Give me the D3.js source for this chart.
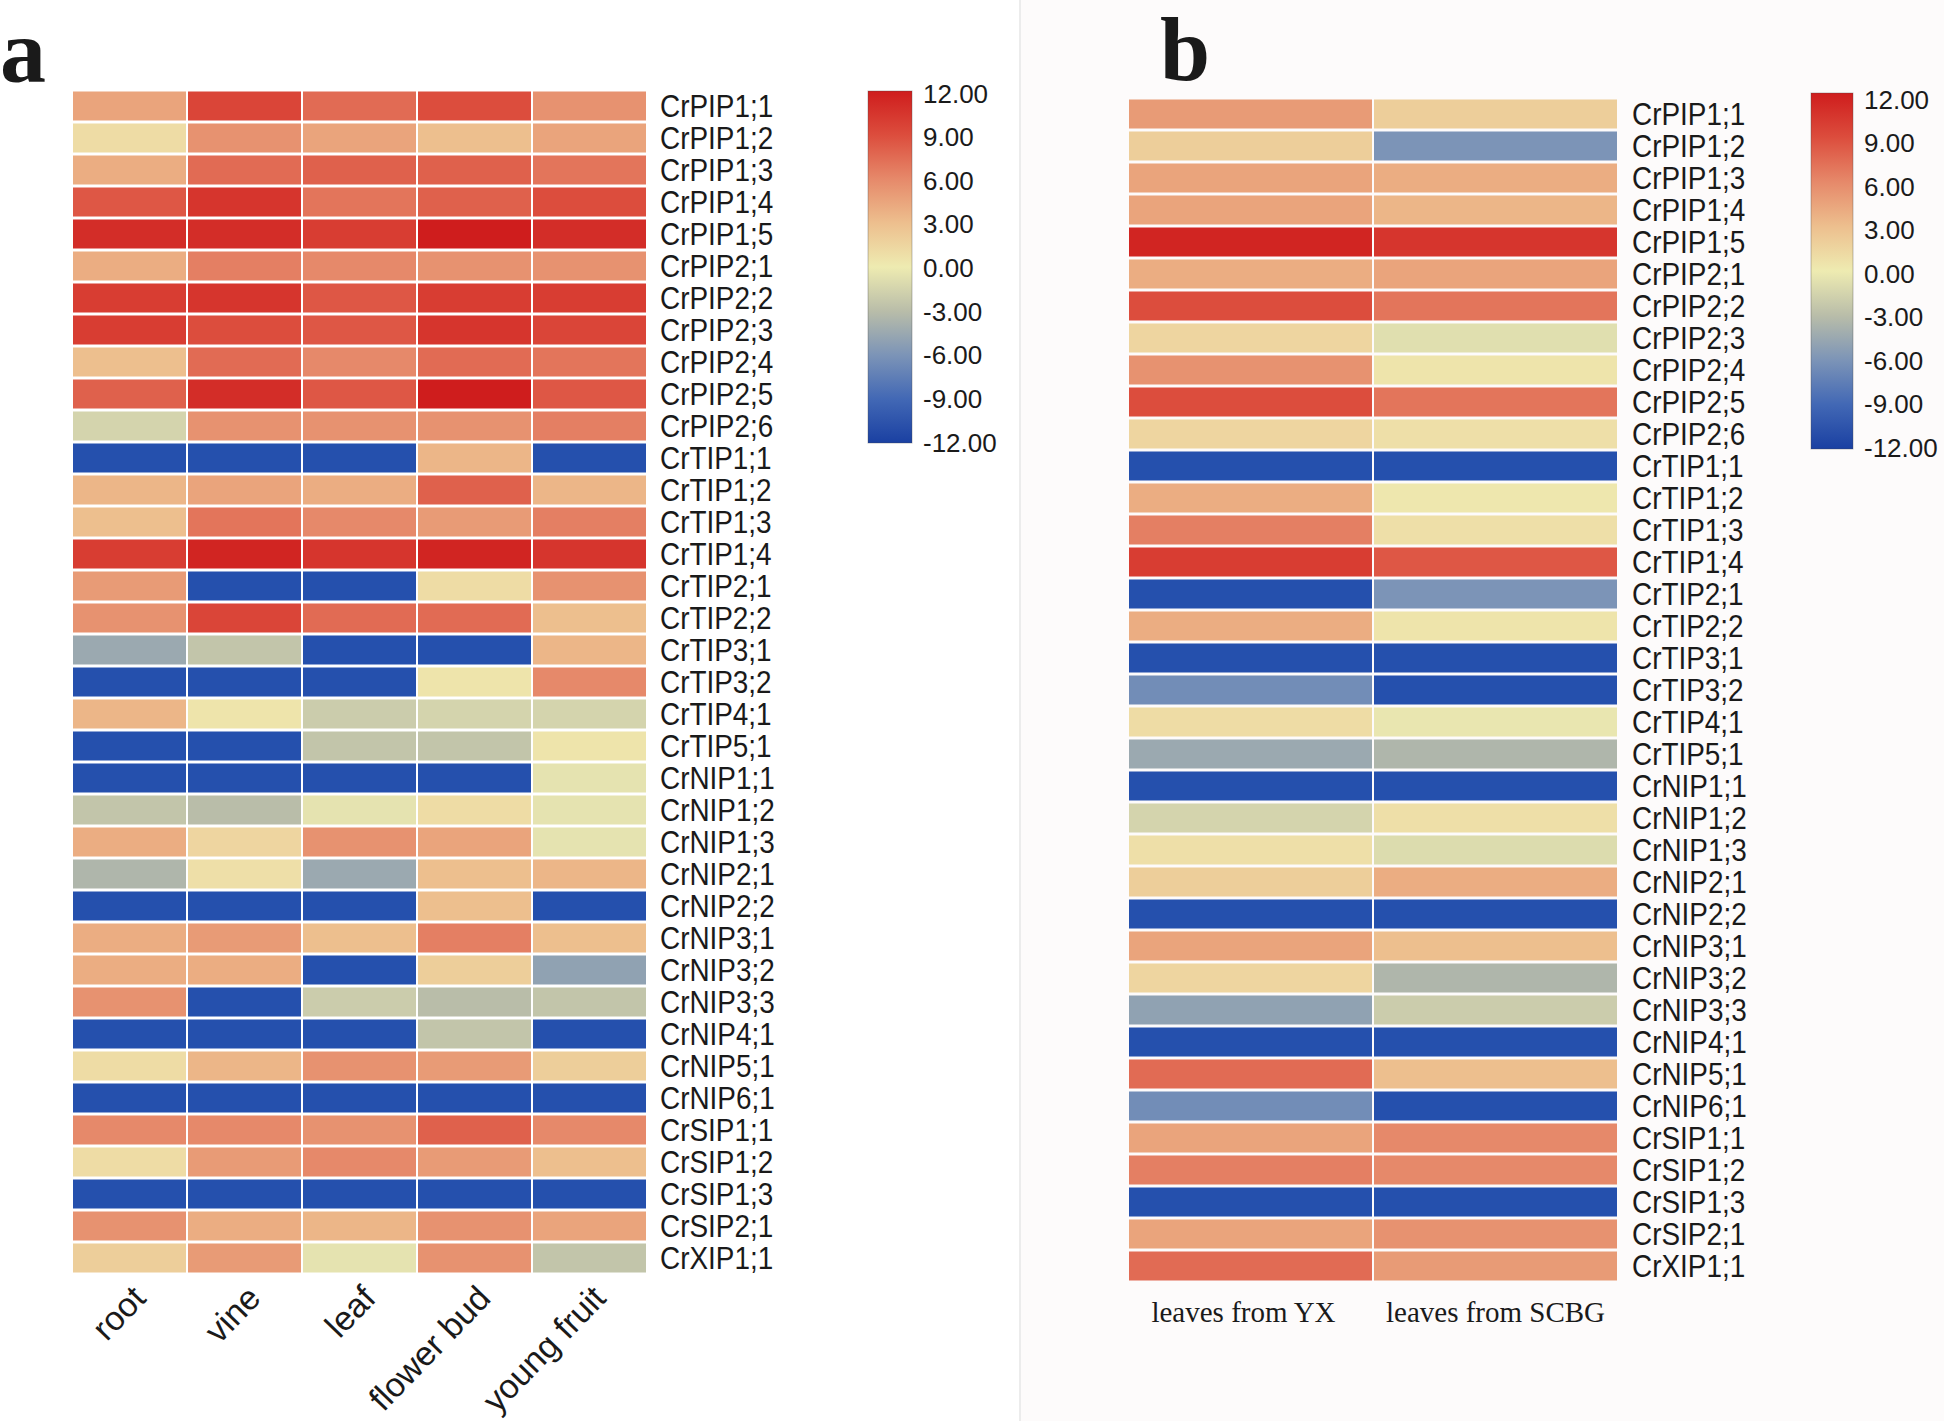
<!DOCTYPE html>
<html>
<head>
<meta charset="utf-8">
<script src="https://cdn.jsdelivr.net/npm/d3@7"></script>
<style>
  body { margin: 0; background: #fff; }
  text { fill: #1a1a1a; }
</style>
</head>
<body>
<script>
// gene rows (same order in both panels)
const genes = ["CrPIP1;1","CrPIP1;2","CrPIP1;3","CrPIP1;4","CrPIP1;5","CrPIP2;1","CrPIP2;2","CrPIP2;3","CrPIP2;4","CrPIP2;5","CrPIP2;6",
  "CrTIP1;1","CrTIP1;2","CrTIP1;3","CrTIP1;4","CrTIP2;1","CrTIP2;2","CrTIP3;1","CrTIP3;2","CrTIP4;1","CrTIP5;1",
  "CrNIP1;1","CrNIP1;2","CrNIP1;3","CrNIP2;1","CrNIP2;2","CrNIP3;1","CrNIP3;2","CrNIP3;3","CrNIP4;1","CrNIP5;1","CrNIP6;1",
  "CrSIP1;1","CrSIP1;2","CrSIP1;3","CrSIP2;1","CrXIP1;1"];

const tissuesA = ["root", "vine", "leaf", "flower bud", "young fruit"];
const tissuesB = ["leaves from YX", "leaves from SCBG"];

// panel a values
const root       = [4.5, 1, 4, 8.5, 11, 4, 10, 10, 3, 8, -1.5, -12, 3.5, 3, 10, 5, 5.5, -4.5, -12, 3.5, -12, -12, -2.5, 4, -3.5, -12, 4, 4, 5.5, -12, 1, -12, 6, 1, -12, 5.5, 2];
const vine       = [9.5, 5.5, 7.5, 10.5, 11, 6.5, 10.5, 9, 7.5, 11, 5.5, -12, 4.5, 7, 11.5, -12, 9.5, -2.5, -12, 0.5, -12, -12, -3, 1.5, 0.8, -12, 5, 4, -12, -12, 3.5, -12, 6, 5, -12, 4, 5];
const leaf       = [7.5, 4.5, 8, 7, 10, 6, 8.5, 8.5, 6, 8.5, 5.5, -12, 4, 6, 10.5, -12, 7.5, -12, -12, -2, -2.5, -12, -0.5, 5.5, -4.5, -12, 3, -12, -2, -12, 5.5, -12, 5.5, 6, -12, 3.5, -0.5];
const flowerBud  = [9, 3, 8, 8, 12, 5.5, 10, 10.5, 7.5, 12, 5.5, 3.5, 8, 5, 11.5, 1, 7.5, -12, 0.5, -1.5, -2.5, -12, 1, 4.5, 3, 3, 6.5, 2, -3, -2.5, 5, -12, 8, 5, -12, 5.5, 5.5];
const youngFruit = [5.5, 4.5, 7, 9, 11, 5.5, 10, 9.5, 7, 8.5, 6.5, -12, 3.5, 6.5, 10.5, 5.5, 3, 3.5, 6, -1.5, 0.5, -0.5, -0.5, -0.5, 3.5, -12, 3, -5, -2.5, -12, 2, -12, 6, 3, -12, 4.5, -2.5];

// panel b values
const leavesYX   = [5, 2, 4.5, 4.5, 11.5, 4, 9, 1.5, 5.5, 9, 1.5, -12, 4, 6.5, 10, -12, 4, -12, -6.5, 1, -4.5, -12, -1.5, 0.8, 2, -12, 4.5, 1.5, -5, -12, 7.5, -6.5, 4.5, 6.5, -12, 4.5, 7.5];
const leavesSCBG = [2, -6, 4, 3.5, 10.5, 4.5, 7, -0.8, 0.5, 7, 0.8, -12, 0.3, 0.8, 8.5, -6, 0.5, -12, -12, -0.3, -3.5, -12, 0.8, -1, 4, -12, 3, -3.5, -2, -12, 3, -12, 6, 6, -12, 5.5, 5];

const legendTicks = [12, 9, 6, 3, 0, -3, -6, -9, -12];
const colorStops  = ["#cf1d1d", "#dc4d3d", "#e6896a", "#edbf8e", "#eeebb1", "#b9bda9", "#7c94b7", "#4268b5", "#2550ad"];

const valuesA = [root, vine, leaf, flowerBud, youngFruit];
const valuesB = [leavesYX, leavesSCBG];

const color = d3.scaleLinear().domain(legendTicks).range(colorStops).clamp(true);
const fmt = v => d3.format(".2f")(v).replace("\u2212", "-");

const W = 1944, H = 1421;
const svg = d3.select("body").append("svg").attr("width", W).attr("height", H);
const defs = svg.append("defs");

// right panel background and divider
svg.append("rect").attr("x", 1020).attr("y", 0).attr("width", W - 1020).attr("height", H).attr("fill", "#fdfbfb");
svg.append("line").attr("x1", 1020).attr("x2", 1020).attr("y1", 0).attr("y2", H).attr("stroke", "#ececec").attr("stroke-width", 2);

function heatmap(cols, vals, xRange, yRange, labelX) {
  const x = d3.scaleBand().domain(cols).range(xRange);
  const y = d3.scaleBand().domain(genes).range(yRange);
  const cells = [];
  cols.forEach((c, i) => genes.forEach((g, j) => cells.push({ c, g, v: vals[i][j] })));
  const g = svg.append("g");
  g.selectAll("rect").data(cells).enter().append("rect")
    .attr("x", d => x(d.c) + 1)
    .attr("y", d => y(d.g) + 1.5)
    .attr("width", x.bandwidth() - 2)
    .attr("height", y.bandwidth() - 3)
    .attr("fill", d => color(d.v));
  // gene names, a little condensed like the original
  g.selectAll("text.row").data(genes).enter().append("text")
    .attr("class", "row")
    .attr("transform", d => `translate(${labelX},${y(d) + y.bandwidth() / 2 + 11}) scale(0.9,1)`)
    .style("font-family", "'Liberation Sans', Arial, sans-serif")
    .style("font-size", "31px")
    .text(d => d);
  return x;
}

function legend(id, x0, y0, w, h, labelX, labelRange) {
  const grad = defs.append("linearGradient").attr("id", id)
    .attr("x1", 0).attr("y1", 0).attr("x2", 0).attr("y2", 1);
  grad.selectAll("stop").data(legendTicks).enter().append("stop")
    .attr("offset", d => (12 - d) / 24)
    .attr("stop-color", d => d === -12 ? "#1a40a2" : color(d));
  svg.append("rect").attr("x", x0).attr("y", y0).attr("width", w).attr("height", h)
    .attr("fill", `url(#${id})`).attr("stroke", "#444").attr("stroke-opacity", 0.35);
  const ly = d3.scaleLinear().domain([12, -12]).range(labelRange);
  svg.append("g").selectAll("text").data(legendTicks).enter().append("text")
    .attr("x", labelX)
    .attr("y", d => ly(d) + 9.5)
    .style("font-family", "'Liberation Sans', Arial, sans-serif")
    .style("font-size", "26px")
    .text(d => fmt(d));
}

// panel a
const xA = heatmap(tissuesA, valuesA, [72, 647], [90, 1274], 660);
svg.append("g").selectAll("text").data(tissuesA).enter().append("text")
  .attr("text-anchor", "end")
  .attr("transform", d => `translate(${xA(d) + xA.bandwidth() / 2 + 18},1300) rotate(-46)`)
  .style("font-family", "'Liberation Sans', Arial, sans-serif")
  .style("font-size", "34px")
  .text(d => d);
legend("gradA", 868, 91, 44, 352, 923, [93, 442]);

// panel b
const xB = heatmap(tissuesB, valuesB, [1128, 1618], [98, 1282], 1632);
svg.append("g").selectAll("text").data(tissuesB).enter().append("text")
  .attr("text-anchor", "middle")
  .attr("x", (d, i) => xB(d) + xB.bandwidth() / 2 - (i === 0 ? 7 : 0))
  .attr("y", 1322)
  .style("font-family", "'Liberation Serif', 'Times New Roman', serif")
  .style("font-size", "29px")
  .text(d => d);
legend("gradB", 1811, 93, 42, 356, 1864, [99, 447]);

// panel letters
svg.append("text").attr("x", 0).attr("y", 82)
  .style("font-family", "'Liberation Serif', 'Times New Roman', serif")
  .style("font-weight", "bold").style("font-size", "92px").text("a");
svg.append("text").attr("x", 1160).attr("y", 80)
  .style("font-family", "'Liberation Serif', 'Times New Roman', serif")
  .style("font-weight", "bold").style("font-size", "90px").text("b");
</script>
</body>
</html>
